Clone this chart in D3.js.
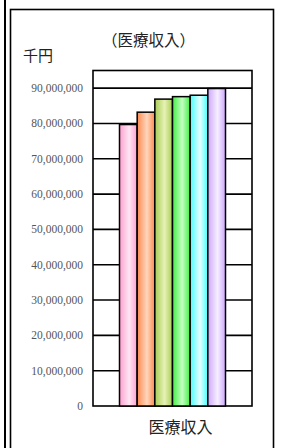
<!DOCTYPE html>
<html>
<head>
<meta charset="utf-8">
<script src="https://cdn.jsdelivr.net/npm/d3@7"></script>
<style>
  body { margin: 0; background: #fff; }
  svg { display: block; }
</style>
</head>
<body>
<div id="chart"></div>
<script>
// data
const categories = ["医療収入"];
const seriesNames = ["s1", "s2", "s3", "s4", "s5", "s6"];
const values = [79700000, 83200000, 86900000, 87600000, 88000000, 89900000];
const edgeColors = ["#ff9fd0", "#ff8a50", "#a8cc55", "#44ee44", "#44ffff", "#cfa6ff"];
const lightColors = ["#ffe6f3", "#ffd6bc", "#e6f2b4", "#c2ffc2", "#e6ffff", "#f6efff"];
const yTicks = [0, 10000000, 20000000, 30000000, 40000000, 50000000, 60000000, 70000000, 80000000, 90000000];

const W = 281, H = 448;
const plot = { left: 93, right: 252, top: 70.5, bottom: 406 };

const svg = d3.select("#chart").append("svg")
    .attr("width", W)
    .attr("height", H);

// frame lines (neighbouring chart edge + this chart's box)
svg.append("line")
    .attr("x1", 5).attr("x2", 5)
    .attr("y1", 0).attr("y2", H)
    .attr("stroke", "#000").attr("stroke-width", 2);

svg.append("rect")
    .attr("x", 10.5).attr("y", 9.5)
    .attr("width", 263).attr("height", 500)
    .attr("fill", "none")
    .attr("stroke", "#000").attr("stroke-width", 1.6);

// scales
const yScale = d3.scaleLinear()
    .domain([0, 95000000])
    .range([plot.bottom, plot.top]);

const x0 = d3.scaleBand()
    .domain(categories)
    .range([plot.left, plot.right])
    .paddingOuter(0.25)
    .paddingInner(0);

const x1 = d3.scaleBand()
    .domain(seriesNames)
    .range([0, x0.bandwidth()])
    .padding(0);

// gradients for cylinder look
const defs = svg.append("defs");
seriesNames.forEach((s, i) => {
    const g = defs.append("linearGradient")
        .attr("id", "grad" + i)
        .attr("x1", "0%").attr("x2", "100%")
        .attr("y1", "0%").attr("y2", "0%");
    g.append("stop").attr("offset", "0%").attr("stop-color", edgeColors[i]);
    g.append("stop").attr("offset", "55%").attr("stop-color", lightColors[i]);
    g.append("stop").attr("offset", "100%").attr("stop-color", edgeColors[i]);
});

// gridlines
svg.append("g")
    .selectAll("line")
    .data(yTicks.filter(d => d > 0))
    .join("line")
    .attr("x1", plot.left).attr("x2", plot.right)
    .attr("y1", d => yScale(d)).attr("y2", d => yScale(d))
    .attr("stroke", "#000").attr("stroke-width", 1.6);

// plot border
svg.append("rect")
    .attr("x", plot.left).attr("y", plot.top)
    .attr("width", plot.right - plot.left)
    .attr("height", plot.bottom - plot.top)
    .attr("fill", "none")
    .attr("stroke", "#000").attr("stroke-width", 1.6);

// bars
categories.forEach(cat => {
    svg.append("g")
        .selectAll("rect")
        .data(values)
        .join("rect")
        .attr("x", (d, i) => x0(cat) + x1(seriesNames[i]))
        .attr("y", d => yScale(d))
        .attr("width", x1.bandwidth())
        .attr("height", d => yScale(0) - yScale(d))
        .attr("fill", (d, i) => `url(#grad${i})`)
        .attr("stroke", "#000")
        .attr("stroke-width", 1.5);
});

// y axis labels
svg.append("g")
    .selectAll("text")
    .data(yTicks)
    .join("text")
    .attr("x", plot.left - 10)
    .attr("y", d => yScale(d))
    .attr("dy", "0.35em")
    .attr("text-anchor", "end")
    .attr("font-family", "'Liberation Serif', serif")
    .attr("font-size", "11.5px")
    .attr("fill", "#555")
    .text(d => d3.format(",")(d));

// titles
const jpFont = "'Noto Sans CJK JP', sans-serif";

svg.append("text")
    .attr("x", 148.5)
    .attr("y", 46)
    .attr("text-anchor", "middle")
    .attr("font-family", jpFont)
    .attr("font-size", "15.5px")
    .attr("fill", "#222")
    .text("（医療収入）");

svg.append("text")
    .attr("x", 23)
    .attr("y", 61)
    .attr("font-family", jpFont)
    .attr("font-size", "15px")
    .attr("fill", "#222")
    .text("千円");

svg.append("text")
    .attr("x", 180.5)
    .attr("y", 433)
    .attr("text-anchor", "middle")
    .attr("font-family", jpFont)
    .attr("font-size", "16px")
    .attr("fill", "#222")
    .text(categories[0]);
</script>
</body>
</html>
